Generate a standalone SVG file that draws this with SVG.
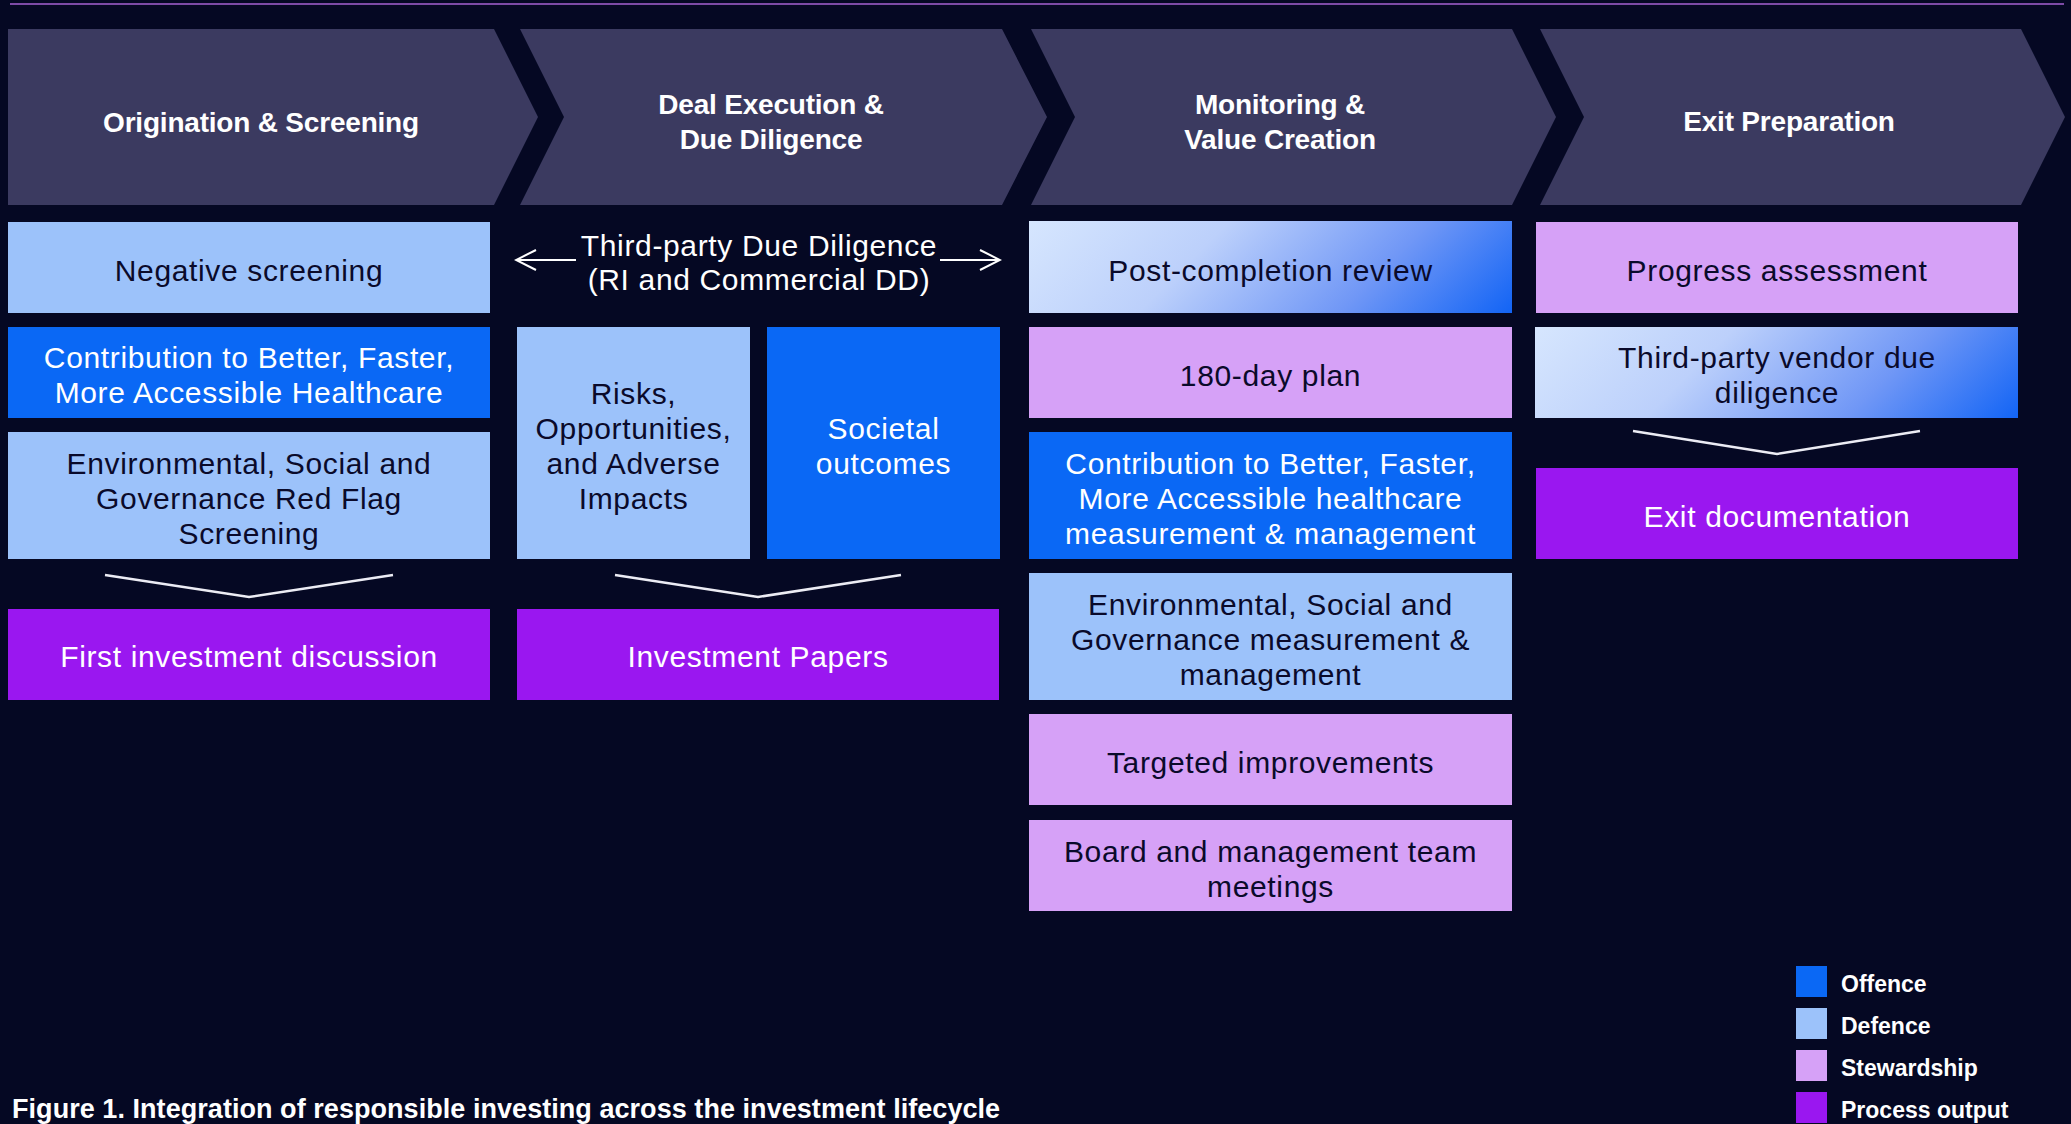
<svg xmlns="http://www.w3.org/2000/svg" width="2071" height="1124" viewBox="0 0 2071 1124">
  <defs>
    <style>
      .bg { fill: #050823; }
      .stage { fill: #3b3a60; }
      .stage-label { font-family: "Liberation Sans", Arial, sans-serif; font-weight: bold; font-size: 28px; fill: #ffffff; text-anchor: middle; letter-spacing: -0.2px; }
      .offence { fill: #0a68f5; }
      .defence { fill: #9cc2fa; }
      .stewardship { fill: #d6a1f7; }
      .output { fill: #9a17f0; }
      .label { font-family: "Liberation Sans", Arial, sans-serif; font-size: 30px; text-anchor: middle; letter-spacing: 0.65px; }
      .dark { fill: #0a0a2a; }
      .light { fill: #ffffff; }
      .merge { fill: none; stroke: #ececf4; stroke-width: 2.5; stroke-linejoin: miter; }
      .dd-arrow { fill: none; stroke: #ffffff; stroke-width: 2; }
      .legend-text { font-family: "Liberation Sans", Arial, sans-serif; font-weight: bold; font-size: 23px; fill: #ffffff; }
      .caption { font-family: "Liberation Sans", Arial, sans-serif; font-weight: bold; font-size: 27px; fill: #ffffff; letter-spacing: 0.05px; }
    </style>
    <!-- diagonal light-to-blue fills for mixed defence/offence items -->
    <linearGradient id="mixA" gradientUnits="userSpaceOnUse" x1="1029" y1="221" x2="1316.5" y2="508.5">
      <stop offset="0" stop-color="#d6e6fe"/>
      <stop offset="0.35" stop-color="#bcd0fb"/>
      <stop offset="0.7" stop-color="#7097f6"/>
      <stop offset="1" stop-color="#1264f5"/>
    </linearGradient>
    <linearGradient id="mixB" gradientUnits="userSpaceOnUse" x1="1535" y1="327" x2="1822.5" y2="614.5">
      <stop offset="0" stop-color="#d6e6fe"/>
      <stop offset="0.35" stop-color="#bcd0fb"/>
      <stop offset="0.7" stop-color="#7097f6"/>
      <stop offset="1" stop-color="#1264f5"/>
    </linearGradient>
    <marker id="openHead" viewBox="0 0 24 24" refX="22" refY="12" markerWidth="24" markerHeight="24" markerUnits="userSpaceOnUse" orient="auto-start-reverse">
      <path d="M2,2 L22,12 L2,22" fill="none" stroke="#ffffff" stroke-width="2"/>
    </marker>
  </defs>

  <rect class="bg" x="0" y="0" width="2071" height="1124"/>
  <line x1="10" y1="4" x2="2064" y2="4" stroke="#7d4aa6" stroke-width="2"/>

  <!-- lifecycle stages -->
  <g id="stage-origination">
    <polygon class="stage" points="8,29 494,29 538,117 494,205 8,205"/>
    <text class="stage-label" x="261" y="132">Origination &amp; Screening</text>
  </g>
  <g id="stage-deal-execution">
    <polygon class="stage" points="520,29 1002,29 1047,117 1002,205 520,205 564,117"/>
    <text class="stage-label" x="771" y="114">Deal Execution &amp;</text>
    <text class="stage-label" x="771" y="149">Due Diligence</text>
  </g>
  <g id="stage-monitoring">
    <polygon class="stage" points="1031,29 1512,29 1556,117 1512,205 1031,205 1075,117"/>
    <text class="stage-label" x="1280" y="114">Monitoring &amp;</text>
    <text class="stage-label" x="1280" y="149">Value Creation</text>
  </g>
  <g id="stage-exit">
    <polygon class="stage" points="1540,29 2021,29 2065,117 2021,205 1540,205 1584,117"/>
    <text class="stage-label" x="1789" y="131">Exit Preparation</text>
  </g>

  <!-- column 1: origination & screening -->
  <g id="negative-screening">
    <rect class="defence" x="8" y="222" width="482" height="91"/>
    <text class="label dark" x="249" y="281">Negative screening</text>
  </g>
  <g id="contribution-screening">
    <rect class="offence" x="8" y="327" width="482" height="91"/>
    <text class="label light" x="249" y="368">Contribution to Better, Faster,</text>
    <text class="label light" x="249" y="403">More Accessible Healthcare</text>
  </g>
  <g id="esg-red-flag">
    <rect class="defence" x="8" y="432" width="482" height="127"/>
    <text class="label dark" x="249" y="474">Environmental, Social and</text>
    <text class="label dark" x="249" y="509">Governance Red Flag</text>
    <text class="label dark" x="249" y="544">Screening</text>
  </g>
  <g id="first-investment-discussion">
    <rect class="output" x="8" y="609" width="482" height="91"/>
    <text class="label light" x="249" y="667">First investment discussion</text>
  </g>

  <!-- column 2: deal execution & due diligence -->
  <g id="third-party-dd">
    <text class="label light" x="759" y="256">Third-party Due Diligence</text>
    <text class="label light" x="759" y="290">(RI and Commercial DD)</text>
  </g>
  <g id="risks-opportunities">
    <rect class="defence" x="517" y="327" width="233" height="232"/>
    <text class="label dark" x="633.5" y="404">Risks,</text>
    <text class="label dark" x="633.5" y="439">Opportunities,</text>
    <text class="label dark" x="633.5" y="474">and Adverse</text>
    <text class="label dark" x="633.5" y="509">Impacts</text>
  </g>
  <g id="societal-outcomes">
    <rect class="offence" x="767" y="327" width="233" height="232"/>
    <text class="label light" x="883.5" y="439">Societal</text>
    <text class="label light" x="883.5" y="474">outcomes</text>
  </g>
  <g id="investment-papers">
    <rect class="output" x="517" y="609" width="482" height="91"/>
    <text class="label light" x="758" y="667">Investment Papers</text>
  </g>

  <!-- column 3: monitoring & value creation -->
  <g id="post-completion-review">
    <rect fill="url(#mixA)" x="1029" y="221" width="483" height="92"/>
    <text class="label dark" x="1270.5" y="281">Post-completion review</text>
  </g>
  <g id="plan-180-day">
    <rect class="stewardship" x="1029" y="327" width="483" height="91"/>
    <text class="label dark" x="1270.5" y="386">180-day plan</text>
  </g>
  <g id="contribution-measurement">
    <rect class="offence" x="1029" y="432" width="483" height="127"/>
    <text class="label light" x="1270.5" y="474">Contribution to Better, Faster,</text>
    <text class="label light" x="1270.5" y="509">More Accessible healthcare</text>
    <text class="label light" x="1270.5" y="544">measurement &amp; management</text>
  </g>
  <g id="esg-measurement">
    <rect class="defence" x="1029" y="573" width="483" height="127"/>
    <text class="label dark" x="1270.5" y="615">Environmental, Social and</text>
    <text class="label dark" x="1270.5" y="650">Governance measurement &amp;</text>
    <text class="label dark" x="1270.5" y="685">management</text>
  </g>
  <g id="targeted-improvements">
    <rect class="stewardship" x="1029" y="714" width="483" height="91"/>
    <text class="label dark" x="1270.5" y="773">Targeted improvements</text>
  </g>
  <g id="board-meetings">
    <rect class="stewardship" x="1029" y="820" width="483" height="91"/>
    <text class="label dark" x="1270.5" y="862">Board and management team</text>
    <text class="label dark" x="1270.5" y="897">meetings</text>
  </g>

  <!-- column 4: exit preparation -->
  <g id="progress-assessment">
    <rect class="stewardship" x="1536" y="222" width="482" height="91"/>
    <text class="label dark" x="1777" y="281">Progress assessment</text>
  </g>
  <g id="vendor-due-diligence">
    <rect fill="url(#mixB)" x="1535" y="327" width="483" height="91"/>
    <text class="label dark" x="1777" y="368">Third-party vendor due</text>
    <text class="label dark" x="1777" y="403">diligence</text>
  </g>
  <g id="exit-documentation">
    <rect class="output" x="1536" y="468" width="482" height="91"/>
    <text class="label light" x="1777" y="527">Exit documentation</text>
  </g>

  <!-- connectors -->
  <g id="connectors">
    <line class="dd-arrow" x1="576" y1="260" x2="516" y2="260" marker-end="url(#openHead)"/>
    <line class="dd-arrow" x1="940" y1="260" x2="1000" y2="260" marker-end="url(#openHead)"/>
    <polyline class="merge" points="105,575 249,597 393,575"/>
    <polyline class="merge" points="615,575 758,597 901,575"/>
    <polyline class="merge" points="1633,431 1777,454 1920,431"/>
  </g>

  <!-- legend -->
  <g id="legend">
    <rect class="offence" x="1796" y="966" width="31" height="31"/>
    <text class="legend-text" x="1841" y="992">Offence</text>
    <rect class="defence" x="1796" y="1008" width="31" height="31"/>
    <text class="legend-text" x="1841" y="1034">Defence</text>
    <rect class="stewardship" x="1796" y="1050" width="31" height="31"/>
    <text class="legend-text" x="1841" y="1076">Stewardship</text>
    <rect class="output" x="1796" y="1092" width="31" height="31"/>
    <text class="legend-text" x="1841" y="1118">Process output</text>
  </g>

  <text class="caption" x="12" y="1118">Figure 1. Integration of responsible investing across the investment lifecycle</text>
</svg>
